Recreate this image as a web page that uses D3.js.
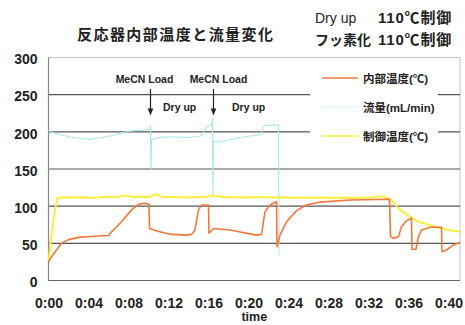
<!DOCTYPE html>
<html><head><meta charset="utf-8">
<script src="https://cdn.jsdelivr.net/npm/d3@7"></script>
<style>
body{margin:0;background:#fff;}
svg{display:block;}
text{font-family:"Liberation Sans",Arial,"Noto Sans CJK JP",sans-serif;}
.cjk{font-family:"Liberation Sans","Noto Sans CJK JP",sans-serif;}
</style></head><body>
<svg id="c" width="465" height="325"></svg>
<script>
// ---- data ----
const xTickValues = [0,4,8,12,16,20,24,28,32,36,40];
const xTickLabels = ["0:00","0:04","0:08","0:12","0:16","0:20","0:24","0:28","0:32","0:36","0:40"];
const yTickValues = [0,50,100,150,200,250,300];

const innerTime = [0,0.3,0.8,1.3,2.0,3.0,4.5,6.0,6.3,7.3,8.3,9.0,9.6,10.0,10.05,10.1,11.0,12.3,13.8,14.3,14.65,15.0,15.3,15.9,16.0,16.05,16.5,18.15,20.8,21.3,21.65,22.15,22.8,22.85,23.15,23.8,24.8,25.8,27.15,30.15,34.1,34.2,34.5,35.0,35.3,35.8,36.3,36.35,36.75,37.0,37.3,38.15,39.3,39.35,39.8,40.5,41.15];
const innerTemp = [25,32,41,50,55,58,59.5,60.5,65.5,79,95,102.5,104,103,103,70,66,62,61,62,68,95,101.5,101.5,101.5,63.5,70,68,61,62,92.6,101.6,106,45.5,61,79,94,101.5,105.5,108.3,109.3,59,56.8,59,72.4,80.5,83.7,42,42,59,68,71.6,71.6,38.8,41,47.8,51];

const ctrlTime = [0,0.45,0.65,0.9,1.5,2.5,3.5,4.5,5.5,6.5,7.65,8.5,9.3,10.0,10.65,11.5,12.5,13.5,14.5,15.5,16.5,17.5,18.5,19.5,20.5,21.5,22.5,23.5,24.5,25.5,26.5,27.5,28.5,29.5,30.5,31.5,32.5,33.3,33.9,34.3,35.0,36.0,37.0,38.0,39.0,40.0,41.15];
const ctrlTemp = [27,77,95,111,112,111.5,112,111,112.5,112,114.5,112,113,112,116,112,112.5,111.5,112,112,114.5,112,112,111.5,112,112,111.5,112,111,111.5,111,111.5,111,111.5,111,111.5,112,113.5,111,108,97,87,79,75,71,68,65.7];

const flowTime = [0,0.2,1.2,2.2,3.2,4.2,5.2,6.4,7.4,8.4,9.8,10.15,10.2,10.25,10.3,11.0,12.0,13.0,14.0,15.0,15.3,15.8,16.3,16.4,16.45,16.5,17.0,18.0,19.0,20.0,21.2,21.5,22.0,22.9,23.0,23.05];
const flowRate = [202,200,196,193,191,190,192,195,199,201.5,202.6,203,209,149,189,192.5,193,193,192,194,195,207,209,220,115,187,186,189,192,194,196,208,209,209,209,34];

const titleText = "反応器内部温度と流量変化";
const noteLines = [["Dry up","110℃制御"],["フッ素化","110℃制御"]];
const seriesNames = ["内部温度(℃)","流量(mL/min)","制御温度(℃)"];
const seriesColors = ["#f2783a","#a8e6f0","#f8ef3c"];
const annoTimes = [10.2,16.5];
const annoTop = ["MeCN Load","MeCN Load"];
const annoSub = ["Dry up","Dry up"];

// ---- layout ----
const svg = d3.select("#c");
const L=48.5, R=460, T=57.5, B=280.5;
const x = d3.scaleLinear().domain([0,41.15]).range([L,R]);
const y = d3.scaleLinear().domain([0,300]).range([B,T]);

svg.append("rect").attr("x",L).attr("y",T).attr("width",R-L).attr("height",B-T)
  .attr("fill","#fff").attr("stroke","#c4c4c4").attr("stroke-width",1);

svg.append("g").selectAll("line").data([50,100,150,200,250]).join("line")
  .attr("x1",L).attr("x2",R).attr("y1",d=>y(d)).attr("y2",d=>y(d))
  .attr("stroke","#555").attr("stroke-width",1.1);

svg.append("line").attr("x1",L).attr("x2",R).attr("y1",y(0)).attr("y2",y(0)).attr("stroke","#666").attr("stroke-width",1.2);
svg.append("line").attr("x1",L).attr("x2",L).attr("y1",T).attr("y2",B).attr("stroke","#888").attr("stroke-width",1.2);

svg.append("rect").attr("x",310).attr("y",62).attr("width",128).attr("height",86).attr("fill","#fff");

const ya = svg.append("g").attr("transform",`translate(${L},0)`)
  .call(d3.axisLeft(y).tickValues(yTickValues).tickSize(0).tickPadding(11));
ya.select(".domain").remove();
ya.selectAll("text").attr("font-size",14).attr("font-weight","bold").attr("fill","#222")
  .attr("font-family","'Liberation Sans',Arial,sans-serif").attr("dy","0.45em");

const xa = svg.append("g").attr("transform",`translate(0,${B})`)
  .call(d3.axisBottom(x).tickValues(xTickValues).tickFormat((d,i)=>xTickLabels[i]).tickSize(0).tickPadding(18));
xa.select(".domain").remove();
xa.selectAll("text").attr("font-size",14).attr("font-weight","bold").attr("fill","#222")
  .attr("font-family","'Liberation Sans',Arial,sans-serif");

svg.append("text").attr("x",(L+R)/2).attr("y",321).attr("text-anchor","middle")
  .attr("font-size",12.5).attr("font-weight","bold").attr("fill","#222").text("time");

const line = d3.line().x(d=>x(d[0])).y(d=>y(d[1]));
svg.append("path").datum(flowTime.map((t,i)=>[t,flowRate[i]]))
  .attr("d",line).attr("fill","none").attr("stroke",seriesColors[1]).attr("stroke-width",1.1);
svg.append("path").datum(ctrlTime.map((t,i)=>[t,ctrlTemp[i]]))
  .attr("d",line).attr("fill","none").attr("stroke",seriesColors[2]).attr("stroke-width",2).attr("stroke-linejoin","round");
svg.append("path").datum(innerTime.map((t,i)=>[t,innerTemp[i]]))
  .attr("d",line).attr("fill","none").attr("stroke",seriesColors[0]).attr("stroke-width",1.6).attr("stroke-linejoin","round");

const legY=[78,107,136];
seriesNames.forEach((n,i)=>{
  svg.append("line").attr("x1",322).attr("x2",358).attr("y1",legY[i]).attr("y2",legY[i])
    .attr("stroke",seriesColors[i]).attr("stroke-width",1.5).attr("opacity",i===1?0.3:1);
  svg.append("text").attr("class","cjk").attr("x",363).attr("y",legY[i]+4.5)
    .attr("font-size",11.5).attr("font-weight","bold").attr("fill","#222").text(n);
});

const topOff=[-6,5], subOff=[12.5,18.5];
annoTimes.forEach((t,i)=>{
  const ax=x(t);
  svg.append("text").attr("x",ax+topOff[i]).attr("y",83).attr("text-anchor","middle")
    .attr("font-size",10.5).attr("font-weight","bold").attr("fill","#222").text(annoTop[i]);
  svg.append("line").attr("x1",ax).attr("x2",ax).attr("y1",89).attr("y2",110).attr("stroke","#222").attr("stroke-width",1.2);
  svg.append("path").attr("d",`M${ax-2.8},108.5L${ax+2.8},108.5L${ax},115.5Z`).attr("fill","#222");
  svg.append("text").attr("x",ax+subOff[i]).attr("y",110.5)
    .attr("font-size",10.5).attr("font-weight","bold").attr("fill","#222").text(annoSub[i]);
});

svg.append("text").attr("class","cjk").attr("x",175).attr("y",40).attr("text-anchor","middle")
  .attr("font-size",15).attr("font-weight","bold").attr("fill","#222")
  .attr("textLength",196).attr("lengthAdjust","spacing").text(titleText);

const noteY=[23,45];
noteLines.forEach((ln,i)=>{
  svg.append("text").attr("class","cjk").attr("x",315).attr("y",noteY[i])
    .attr("font-size",14).attr("font-weight",i===0?"normal":"bold").attr("fill","#222").text(ln[0]);
  svg.append("text").attr("class","cjk").attr("x",378).attr("y",noteY[i])
    .attr("font-size",15).attr("font-weight","bold").attr("fill","#222")
    .attr("letter-spacing","0.8px").text(ln[1]);
});
</script></body></html>
